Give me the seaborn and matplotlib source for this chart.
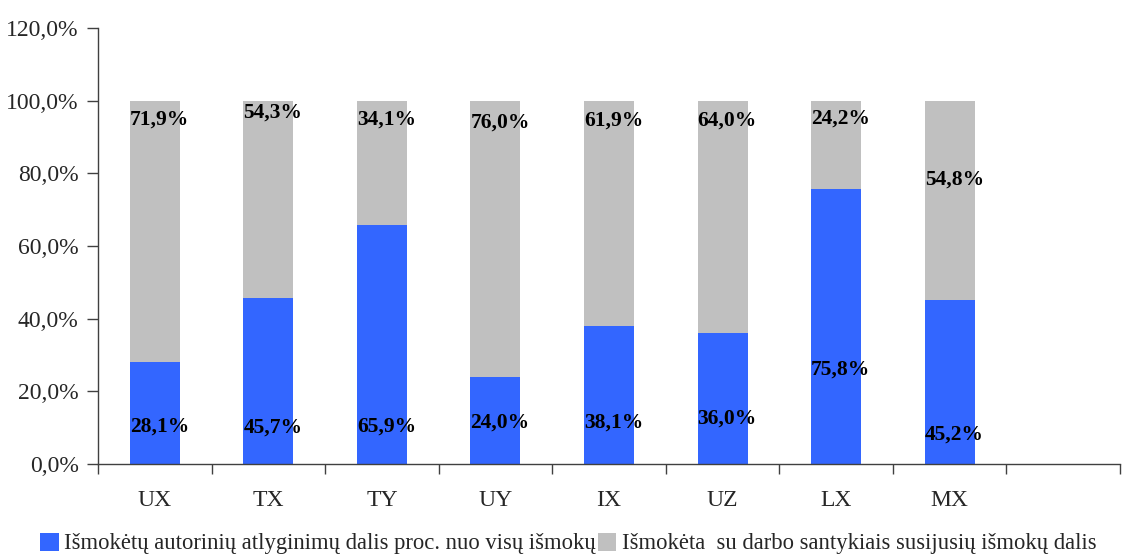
import matplotlib
matplotlib.use("Agg")
import matplotlib.pyplot as plt
from matplotlib.ticker import FixedLocator, FuncFormatter
from matplotlib.patches import Patch
import seaborn as sns
import pandas as pd

# Data
categories = ["UX", "TX", "TY", "UY", "IX", "UZ", "LX", "MX"]
royalty_share = [28.1, 45.7, 65.9, 24.0, 38.1, 36.0, 75.8, 45.2]
labour_share = [71.9, 54.3, 34.1, 76.0, 61.9, 64.0, 24.2, 54.8]
legend_labels = [
    "Išmokėtų autorinių atlyginimų dalis proc. nuo visų išmokų",
    "Išmokėta  su darbo santykiais susijusių išmokų dalis",
]

# Vertical placement of the value labels (axis units)
royalty_label_y = [10.2, 9.9, 10.2, 11.3, 11.3, 12.4, 26.1, 8.0]
labour_label_y = [94.7, 96.6, 94.7, 93.9, 94.4, 94.4, 95.0, 78.2]

BLUE = "#3366FF"
GREY = "#C0C0C0"

sns.set_theme(style="white")
plt.rcParams["font.family"] = ["Liberation Serif", "DejaVu Serif"]

df = pd.DataFrame({
    "cat": categories,
    "royalty": royalty_share,
    "total": [a + b for a, b in zip(royalty_share, labour_share)],
})

fig = plt.figure(figsize=(11.23, 5.58), dpi=100)
ax = fig.add_axes([0.0873, 0.1685, 0.9100, 0.7813])

sns.barplot(data=df, x="cat", y="total", order=categories, color=GREY,
            saturation=1, width=0.44, errorbar=None, ax=ax, linewidth=0)
sns.barplot(data=df, x="cat", y="royalty", order=categories, color=BLUE,
            saturation=1, width=0.44, errorbar=None, ax=ax, linewidth=0)

ax.set_xlim(-0.5, 8.5)
ax.set_ylim(0, 120)
ax.set_xlabel("")
ax.set_ylabel("")

# Value labels
for i in range(len(categories)):
    ax.text(i + 0.04, royalty_label_y[i], f"{royalty_share[i]:.1f}%".replace(".", ","),
            ha="center", va="center", fontsize=15.5, fontweight="bold", color="black")
    ax.text(i + 0.04, labour_label_y[i], f"{labour_share[i]:.1f}%".replace(".", ","),
            ha="center", va="center", fontsize=15.5, fontweight="bold", color="black")

# Y axis
ax.yaxis.set_major_locator(FixedLocator(range(0, 121, 20)))
ax.yaxis.set_major_formatter(FuncFormatter(lambda v, p: f"{v:.1f}%".replace(".", ",")))
ax.tick_params(axis="y", which="major", direction="out", length=8, width=1,
               color="#404040", pad=6, labelsize=17, left=True)

# X axis: tick marks between categories, labels at centres
ax.xaxis.set_major_locator(FixedLocator([k - 0.5 for k in range(10)]))
ax.xaxis.set_major_formatter(FuncFormatter(lambda v, p: ""))
ax.xaxis.set_minor_locator(FixedLocator(list(range(len(categories)))))
ax.set_xticklabels(categories, minor=True)
ax.tick_params(axis="x", which="major", direction="out", length=7, width=1,
               color="#404040", bottom=True)
ax.tick_params(axis="x", which="minor", length=0, pad=19, labelsize=17, bottom=True)

for side in ["top", "right"]:
    ax.spines[side].set_visible(False)
for side in ["left", "bottom"]:
    ax.spines[side].set_color("#404040")
    ax.spines[side].set_linewidth(1)

handles = [Patch(facecolor=BLUE, edgecolor="none"), Patch(facecolor=GREY, edgecolor="none")]
fig.legend(handles, legend_labels, loc="center left", bbox_to_anchor=(0.036, 0.026),
           ncol=2, frameon=False, fontsize=16.3, handlelength=0.8, handleheight=0.85,
           handletextpad=0.25, columnspacing=0.1, borderpad=0, borderaxespad=0)

fig.savefig("out.png", dpi=100)
